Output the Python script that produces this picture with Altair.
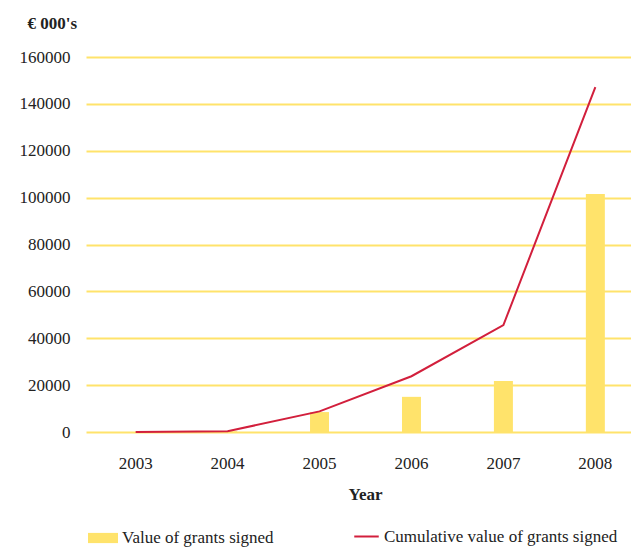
import altair as alt
import pandas as pd

# Grants signed per year, in thousands of euro
years = ["2003", "2004", "2005", "2006", "2007", "2008"]
grants_signed = [0, 300, 8500, 15000, 21800, 101500]
cumulative_grants = [0, 300, 8800, 23800, 45600, 147100]

YELLOW = "#FFE36B"
RED = "#D21F3C"
FONT = "Liberation Serif"

df = pd.DataFrame({
    "year": years,
    "signed": grants_signed,
    "cumulative": cumulative_grants,
    "bar_series": ["Value of grants signed"] * len(years),
    "line_series": ["Cumulative value of grants signed"] * len(years),
})

# The band scale runs slightly past the right edge of the drawing area
x_enc = alt.X(
    "year:N",
    title="Year",
    scale=alt.Scale(paddingInner=0, paddingOuter=0.04, range=[0, 559]),
    axis=alt.Axis(
        labelAngle=0, labelFont=FONT, labelFontSize=17, labelColor="#222",
        labelPadding=23, ticks=False, domain=False, grid=False,
        titleFont=FONT, titleFontSize=17, titleFontWeight="bold",
        titleColor="#222", titlePadding=15, titleX=279,
    ),
)

y_axis = alt.Axis(
    values=[0, 20000, 40000, 60000, 80000, 100000, 120000, 140000, 160000],
    format="d", labelFont=FONT, labelFontSize=17, labelColor="#222",
    labelPadding=16, ticks=False, domain=False,
    grid=True, gridColor=YELLOW, gridWidth=2,
    title="€ 000's", titleAngle=0, titleAlign="left", titleBaseline="middle",
    titleX=-59, titleY=-34, titleFont=FONT, titleFontSize=17,
    titleFontWeight="bold", titleColor="#222",
)
y_scale = alt.Scale(domain=[0, 160000], nice=False)

bars = alt.Chart(df).mark_bar(size=19).encode(
    x=x_enc,
    y=alt.Y("signed:Q", scale=y_scale, axis=y_axis),
    color=alt.Color(
        "bar_series:N",
        scale=alt.Scale(range=[YELLOW]),
        legend=alt.Legend(
            title=None, orient="none", legendX=2, legendY=466,
            symbolType="M-1,-0.34H1V0.34H-1Z", symbolSize=900,
            symbolStrokeWidth=0, symbolOpacity=1,
            labelFont=FONT, labelFontSize=17, labelColor="#222", labelLimit=400,
        ),
    ),
)

line = alt.Chart(df).mark_line(strokeWidth=2).encode(
    x=x_enc,
    y=alt.Y("cumulative:Q", scale=y_scale, axis=y_axis),
    color=alt.Color(
        "line_series:N",
        scale=alt.Scale(range=[RED]),
        legend=alt.Legend(
            title=None, orient="none", legendX=267, legendY=466,
            symbolType="stroke", symbolSize=600, symbolStrokeWidth=2,
            labelFont=FONT, labelFontSize=17, labelColor="#222", labelLimit=400,
        ),
    ),
)

chart = (
    alt.layer(bars, line)
    .resolve_scale(color="independent")
    .properties(
        width=545, height=375, background="white",
        autosize=alt.AutoSizeParams(type="none"),
        padding={"left": 86, "top": 57, "right": 0, "bottom": 115},
    )
    .configure_view(stroke=None)
    .configure_axis(labelFont=FONT, titleFont=FONT)
    .configure_legend(labelFont=FONT)
)

chart.save("out.html", embed_options={"renderer": "svg", "actions": False})
